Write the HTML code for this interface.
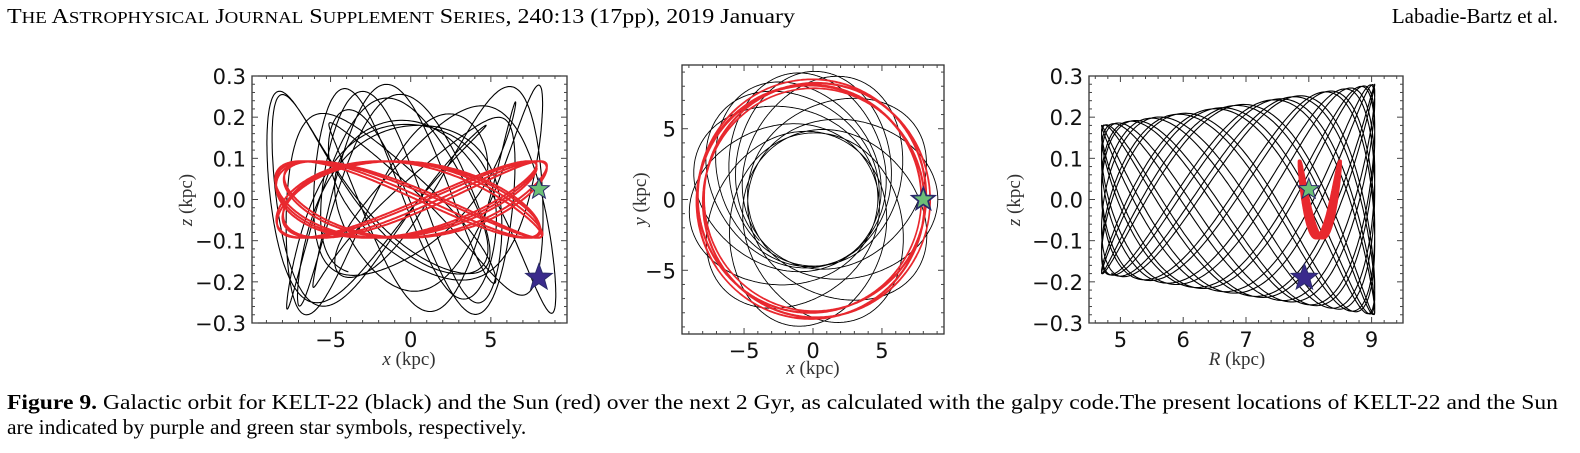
<!DOCTYPE html>
<html><head><meta charset="utf-8">
<style>
html,body{margin:0;padding:0;background:#fff;}
svg{display:block;}
.hdr{font-family:"Liberation Serif",serif;font-size:21px;fill:#000;}
.tk{font-family:"DejaVu Sans","Liberation Sans",sans-serif;font-size:21px;fill:#111;}
.al{font-family:"Liberation Serif",serif;font-size:19px;fill:#333;}
.cap{font-family:"Liberation Serif",serif;font-size:21.5px;fill:#000;}
</style></head>
<body>
<svg id="s" width="1580" height="453" xmlns="http://www.w3.org/2000/svg">
<text class="hdr" x="7" y="23" textLength="788" lengthAdjust="spacingAndGlyphs">T<tspan font-size="16.5">HE</tspan> A<tspan font-size="16.5">STROPHYSICAL</tspan> J<tspan font-size="16.5">OURNAL</tspan> S<tspan font-size="16.5">UPPLEMENT</tspan> S<tspan font-size="16.5">ERIES</tspan>, 240:13 (17pp), 2019 January</text>
<text class="hdr" x="1558" y="23" text-anchor="end">Labadie-Bartz et al.</text>
<g id="plots"></g>
<text class="al" x="409" y="365" text-anchor="middle"><tspan font-style="italic">x</tspan> (kpc)</text>
<text class="al" x="813" y="374" text-anchor="middle"><tspan font-style="italic">x</tspan> (kpc)</text>
<text class="al" x="1237" y="365" text-anchor="middle"><tspan font-style="italic">R</tspan> (kpc)</text>
<text class="al" transform="translate(192,200) rotate(-90)" text-anchor="middle"><tspan font-style="italic">z</tspan> (kpc)</text>
<text class="al" transform="translate(646,199) rotate(-90)" text-anchor="middle"><tspan font-style="italic">y</tspan> (kpc)</text>
<text class="al" transform="translate(1020,200) rotate(-90)" text-anchor="middle"><tspan font-style="italic">z</tspan> (kpc)</text>
<text class="cap" x="7" y="409" textLength="1551" lengthAdjust="spacingAndGlyphs"><tspan font-weight="bold">Figure 9.</tspan> Galactic orbit for KELT-22 (black) and the Sun (red) over the next 2 Gyr, as calculated with the galpy code.The present locations of KELT-22 and the Sun</text>
<text class="cap" x="7" y="434">are indicated by purple and green star symbols, respectively.</text>
</svg>
<script>
var NS="http://www.w3.org/2000/svg",G=document.getElementById("plots");
function el(t,a,p){var e=document.createElementNS(NS,t);for(var k in a)e.setAttribute(k,a[k]);(p||G).appendChild(e);return e;}
function txt(x,y,s,anc){var e=el("text",{x:x,y:y,"class":"tk","text-anchor":anc});e.textContent=s;}
function orbit(Rm,A,kap,L,Z0,Z1,nu,zp,T,dt){
 var pts=[],phi=0;
 for(var t=0;t<=T;t+=dt){var R=Rm-A*Math.cos(kap*t+0.3);phi+=L/(R*R)*dt;
  var amp=Z0+(R-4.7)/4.35*(Z1-Z0);var z=amp*Math.sin(nu*t+zp);
  pts.push([R*Math.cos(phi),R*Math.sin(phi),z,R]);}
 return pts;}
var K1=orbit(6.875,2.175,0.0405,1.48,0.18,0.28,0.0617,0.4,2000,0.5);
var K3=orbit(6.875,2.175,0.0405,1.48,0.18,0.28,0.0871,0.4,2000,0.5);
var S=orbit(8.175,0.325,0.0201,1.8,0.093,0.093,0.0404,0.6+Math.PI/2,2000,0.5);
function panel(o){
 var x0=o.x0,x1=o.x1,y0=o.y0,y1=o.y1;
 var X=function(v){return x0+(v-o.xa)/(o.xb-o.xa)*(x1-x0);},Y=function(v){return y1-(v-o.ya)/(o.yb-o.ya)*(y1-y0);};
 var cp="c"+x0;var d=el("clipPath",{id:cp});el("rect",{x:x0,y:y0,width:x1-x0,height:y1-y0},d);
 var g=el("g",{"clip-path":"url(#"+cp+")"});
 [[o.K,"#000",o.kw],[S,"#e8282e",o.sw]].forEach(function(q){
  var s="";q[0].forEach(function(p,i){var v=o.f(p);s+=(i?"L":"M")+X(v[0]).toFixed(1)+" "+Y(v[1]).toFixed(1);});
  el("path",{d:s,fill:"none",stroke:q[1],"stroke-width":q[2],"stroke-linejoin":"round"},g);});
 o.stars.forEach(function(st){var cx=X(st[0]),cy=Y(st[1]),r=st[2],s="";
  for(var i=0;i<10;i++){var a=-Math.PI/2+i*Math.PI/5,rr=i%2?r*0.42:r;s+=(cx+rr*Math.cos(a)).toFixed(1)+","+(cy+rr*Math.sin(a)).toFixed(1)+" ";}
  el("polygon",{points:s,fill:st[3],stroke:"#2a2a6a","stroke-width":1});});
 el("rect",{x:x0,y:y0,width:x1-x0,height:y1-y0,fill:"none",stroke:"#333","stroke-width":1.3});
 o.xt.forEach(function(v){var px=X(v[0]);var L=v[1]?6:3;
  el("line",{x1:px,y1:y1,x2:px,y2:y1-L,stroke:"#444"});el("line",{x1:px,y1:y0,x2:px,y2:y0+L,stroke:"#444"});
  if(v[1])txt(px,y1+24,v[1],"middle");});
 o.yt.forEach(function(v){var py=Y(v[0]);var L=v[1]?6:3;
  el("line",{x1:x0,y1:py,x2:x0+L,y2:py,stroke:"#444"});el("line",{x1:x1,y1:py,x2:x1-L,y2:py,stroke:"#444"});
  if(v[1])txt(x0-6,py+8,v[1],"end");});
}
function ticks(a,b,step,major,fmt){var r=[];for(var v=a;v<=b+1e-9;v+=step){var m=Math.abs(v/major-Math.round(v/major))<1e-6;r.push([v,m?fmt(v):""]);}return r;}
var mn=function(v){return v<-1e-9?"\u2212"+Math.abs(v).toFixed(1):Math.abs(v).toFixed(1);};
var mi=function(v){v=Math.round(v);return v<0?"\u2212"+(-v):""+v;};
panel({K:K1,x0:252,x1:567,y0:76,y1:323,xa:-9.9,xb:9.75,ya:-0.3,yb:0.3,kw:1.1,sw:2,
 f:function(p){return [p[0],p[2]];},
 xt:ticks(-9,9,1,5,mi),yt:ticks(-0.3,0.3,0.02,0.1,mn),
 stars:[[8,0.025,11,"#6cbf77"],[8,-0.19,14,"#3a2a8c"]]});
panel({K:K1,x0:682,x1:944,y0:65,y1:334,xa:-9.5,xb:9.5,ya:-9.5,yb:9.5,kw:0.9,sw:1.6,
 f:function(p){return [p[0],p[1]];},
 xt:ticks(-9,9,1,5,mi),yt:ticks(-9,9,1,5,mi),
 stars:[[8,0,13,"#3a2a8c"],[8,0,11,"#6cbf77"]]});
panel({K:K3,x0:1089,x1:1403,y0:76,y1:323,xa:4.5,xb:9.5,ya:-0.3,yb:0.3,kw:1.1,sw:3.5,
 f:function(p){return [p[3],p[2]];},
 xt:ticks(4.6,9.4,0.2,1,mi).filter(function(v){return v[0]>4.55}),yt:ticks(-0.3,0.3,0.02,0.1,mn),
 stars:[[7.93,-0.19,14,"#3a2a8c"],[8.0,0.025,11,"#6cbf77"]]});
</script>
</body></html>
